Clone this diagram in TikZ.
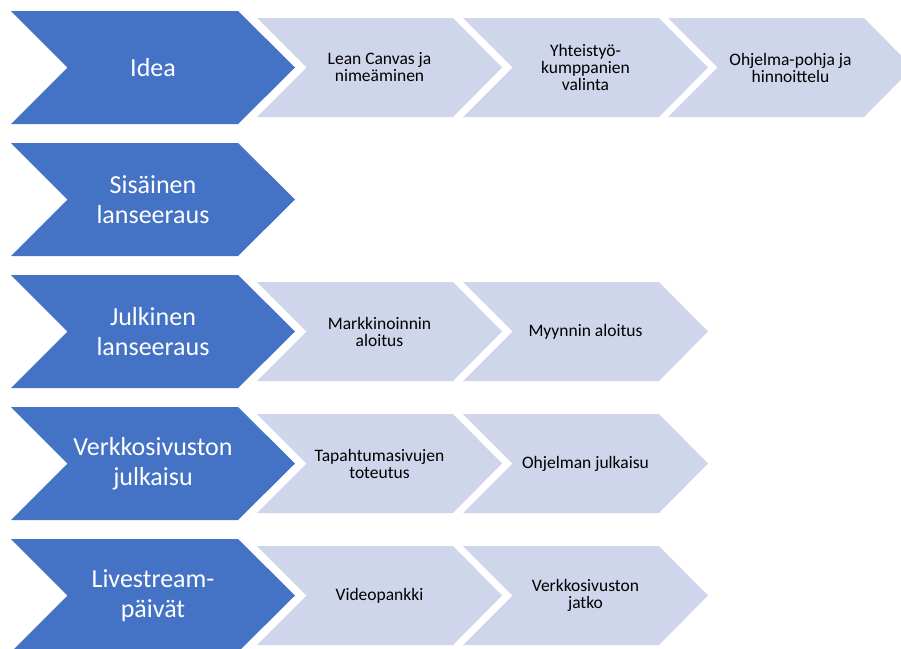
\documentclass[tikz,border=0pt]{standalone}
\usepackage{fontspec}
\setmainfont{Carlito}
\definecolor{bigblue}{HTML}{4472C4}
\definecolor{lightblue}{HTML}{CFD5EA}
\tikzset{
  bigshape/.style={fill=bigblue},
  lightshape/.style={fill=lightblue},
  bigtext/.style={text=white, align=center, inner sep=0pt, font=\fontsize{26}{29.5}\selectfont},
  smalltext/.style={text=black, align=center, inner sep=0pt, font=\fontsize{17.5}{17}\selectfont},
}
\newcommand{\bigchev}[3]{%
  \fill[bigshape] (11,#2) -- (238,#2) -- (295,#2+56.5) -- (238,#2+113) -- (11,#2+113) -- (67.5,#2+56.5) -- cycle;
  \node[bigtext] (#1) at (153,#2+56.5) {#3};
}
\newcommand{\lightchev}[4]{%
  \fill[lightshape] (#2,#3) -- (#2+196,#3) -- (#2+245,#3+49.5) -- (#2+196,#3+99) -- (#2,#3+99) -- (#2+49.5,#3+49.5) -- cycle;
  \node[smalltext] (#1) at (#2+122.5,#3+49.5) {#4};
}
\begin{document}
\begin{tikzpicture}[x=1pt,y=-1pt]
\useasboundingbox (0,0) rectangle (901,648);
\clip (0,0) rectangle (901,648);
% row 1
\bigchev{idea}{11}{Idea}
\lightchev{lean}{257}{18}{Lean Canvas ja\\nimeäminen}
\lightchev{yht}{463}{18}{Yhteistyö-\\kumppanien\\valinta}
\lightchev{ohj}{668}{18}{Ohjelma-pohja ja\\hinnoittelu}
% row 2
\bigchev{sis}{143}{Sisäinen\\lanseeraus}
% row 3
\bigchev{julk}{275}{Julkinen\\lanseeraus}
\lightchev{mark}{257}{282}{Markkinoinnin\\aloitus}
\lightchev{myyn}{463}{282}{Myynnin aloitus}
% row 4
\bigchev{verk}{407}{Verkkosivuston\\julkaisu}
\lightchev{tapa}{257}{414}{Tapahtumasivujen\\toteutus}
\lightchev{ojulk}{463}{414}{Ohjelman julkaisu}
% row 5
\bigchev{live}{539}{Livestream-\\päivät}
\lightchev{video}{257}{546}{Videopankki}
\lightchev{jatko}{463}{546}{Verkkosivuston\\jatko}
\end{tikzpicture}
\end{document}
